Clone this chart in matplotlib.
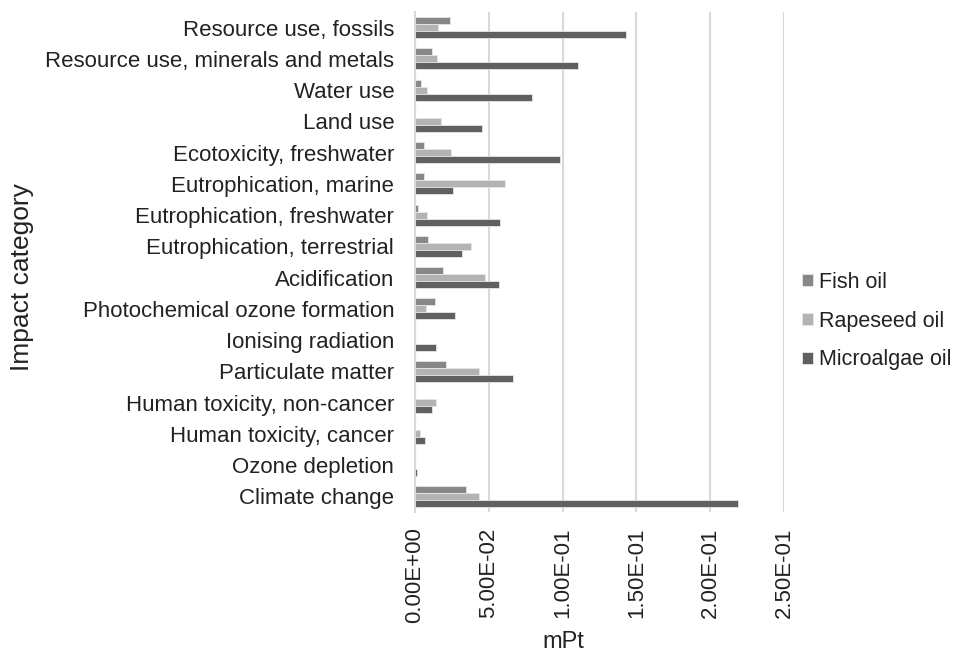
import numpy as np
import matplotlib
matplotlib.use("Agg")
import matplotlib.pyplot as plt

plt.rcParams['font.family'] = ['Liberation Sans', 'DejaVu Sans']

categories = ["Climate change", "Ozone depletion", "Human toxicity, cancer",
              "Human toxicity, non-cancer", "Particulate matter", "Ionising radiation",
              "Photochemical ozone formation", "Acidification",
              "Eutrophication, terrestrial", "Eutrophication, freshwater",
              "Eutrophication, marine", "Ecotoxicity, freshwater", "Land use",
              "Water use", "Resource use, minerals and metals", "Resource use, fossils"]

fish_oil = [0.0348, 0.0001, 0.0002, 0.0002, 0.0212, 0.0003, 0.0135, 0.0190,
            0.0090, 0.0023, 0.0059, 0.0061, 0.0, 0.0041, 0.0115, 0.0239]
rapeseed_oil = [0.0431, 0.0002, 0.0034, 0.0142, 0.0434, 0.0003, 0.0075, 0.0474,
                0.0382, 0.0081, 0.0610, 0.0244, 0.0176, 0.0083, 0.0147, 0.0158]
microalgae_oil = [0.2188, 0.0012, 0.0066, 0.0113, 0.0662, 0.0140, 0.0273, 0.0571,
                  0.0318, 0.0578, 0.0260, 0.0980, 0.0452, 0.0790, 0.1104, 0.1427]

series = [("Fish oil", fish_oil, "#878787"),
          ("Rapeseed oil", rapeseed_oil, "#b3b3b3"),
          ("Microalgae oil", microalgae_oil, "#606060")]

txt = "#222222"

fig = plt.figure(figsize=(9.58, 6.53), dpi=100)
ax = fig.add_axes([0.4332, 0.2159, 0.3852, 0.7657])

y = np.arange(len(categories))
h = 0.225
offsets = [h, 0, -h]
for (name, vals, col), off in zip(series, offsets):
    ax.barh(y + off, vals, height=h, color=col, label=name,
            edgecolor="#e6e6e6", linewidth=0.6)

ax.set_xlim(0, 0.25)
ax.set_ylim(-0.5, len(categories) - 0.5)
ax.set_xticks(np.arange(0, 0.2501, 0.05))
ax.set_xticklabels(["0.00E+00", "5.00E-02", "1.00E-01", "1.50E-01",
                    "2.00E-01", "2.50E-01"], rotation=90, fontsize=16, color=txt)
ax.set_yticks(y)
ax.set_yticklabels(categories, fontsize=16, color=txt)
ax.tick_params(axis="y", length=0, pad=15)
ax.tick_params(axis="x", length=0, pad=11)
ax.grid(axis="x", color="#d9d9d9", linewidth=1.5)
ax.set_axisbelow(True)
for s in ["top", "right", "bottom"]:
    ax.spines[s].set_visible(False)
ax.spines["left"].set_color("#d9d9d9")
ax.spines["left"].set_linewidth(1.5)

fig.text(563 / 958, 1 - 642 / 653, "mPt", fontsize=17, color=txt,
         ha="center", va="center")
fig.text(22 / 958, 1 - 277 / 653, "Impact category", fontsize=19, color=txt,
         ha="center", va="center", rotation=90)

leg = fig.legend(loc="center left", bbox_to_anchor=(802 / 958, 1 - 321 / 653),
                 frameon=False, fontsize=15.5, labelspacing=0.83, borderpad=0,
                 borderaxespad=0, handlelength=0.5, handleheight=0.5,
                 handletextpad=0.3)
for t in leg.get_texts():
    t.set_color(txt)

fig.savefig("out.png", dpi=100)
